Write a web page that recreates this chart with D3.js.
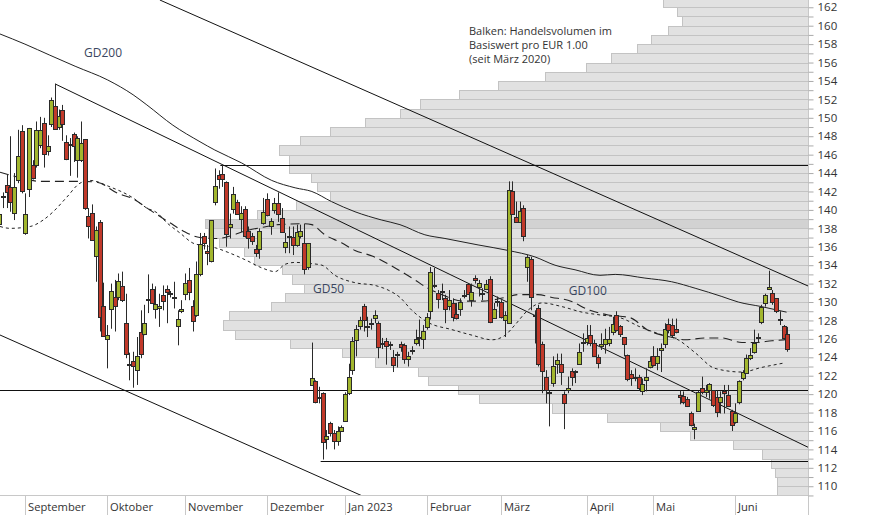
<!DOCTYPE html>
<html><head><meta charset="utf-8">
<script src="https://cdn.jsdelivr.net/npm/d3@7/dist/d3.min.js"></script>
<style>
body{margin:0;background:#fff;}
svg{display:block;font-family:"Open Sans","Noto Sans",sans-serif;}
</style>
</head><body>
<svg id="chart" width="874" height="515"></svg>
<script>
// ---------- DATA ----------
const firstIndex = -7; // trading-day index of first candle (0 = 1 Sep 2022)
const openP  = [138.5,141.4,142.7,142.5,139.7,143.3,148.6,137.5,142.3,144.9,144.9,147.0,149.4,146.4,149.3,151.3,149.0,150.9,147.4,147.2,148.2,145.4,145.4,147.7,139.3,139.7,135.0,138.7,129.6,126.0,129.2,130.6,130.5,131.7,127.7,123.2,123.6,122.6,126.8,126.5,130.3,131.4,129.2,129.3,130.8,131.4,130.9,130.6,127.4,129.0,130.9,132.4,129.6,128.6,133.0,137.2,135.5,134.5,140.9,143.8,143.9,143.0,138.1,140.1,140.9,139.0,140.1,137.7,137.2,135.8,135.8,138.6,141.2,138.3,140.0,140.7,139.1,136.0,137.1,137.1,136.2,137.2,136.4,133.8,121.0,121.4,119.6,120.1,115.1,116.9,115.8,114.9,116.0,117.1,120.1,122.6,125.9,127.4,129.6,127.3,127.7,128.3,127.7,125.6,125.8,125.3,124.0,124.3,125.4,125.3,123.8,124.8,125.6,126.1,126.0,127.3,129.0,131.8,131.0,131.1,130.4,129.6,129.9,128.7,129.2,130.8,132.0,130.2,132.6,131.6,130.9,131.4,132.5,128.3,130.0,130.0,128.1,127.7,142.1,139.2,138.7,140.2,133.8,134.7,128.6,129.3,125.4,121.9,120.2,121.2,123.3,123.3,120.0,120.4,122.5,122.5,123.3,125.5,125.7,126.4,125.5,124.0,125.2,125.4,125.5,126.8,128.6,127.4,126.2,124.2,122.2,121.9,121.9,120.3,121.5,123.0,124.1,123.4,124.8,125.4,127.6,127.5,127.1,119.9,119.8,119.5,118.0,116.2,118.2,120.7,120.2,120.5,120.4,119.7,119.2,120.3,119.9,118.2,117.0,119.1,121.7,122.3,123.9,124.6,126.1,127.8,129.9,131.4,131.0,130.4,128.2,127.4,126.5];
const highP  = [140.0,141.9,143.8,148.0,144.0,148.7,149.2,141.8,148.9,145.4,149.6,150.1,150.0,148.1,152.2,153.7,150.9,151.4,148.1,147.8,148.4,148.0,149.6,147.7,140.2,140.6,138.2,138.9,132.1,127.5,132.0,132.4,133.1,133.3,130.9,124.5,124.6,126.2,129.1,129.7,133.0,132.0,131.7,130.9,131.8,131.8,131.2,132.2,129.1,130.2,133.1,133.7,130.2,134.4,137.5,137.5,136.2,138.9,144.5,144.3,144.9,143.1,139.6,142.5,141.1,140.4,140.4,138.2,137.5,136.2,138.0,141.3,141.8,139.1,141.3,141.9,140.2,137.5,138.2,138.2,138.4,138.4,138.5,136.4,125.6,121.5,120.8,120.2,116.1,117.0,116.1,116.5,116.6,120.2,123.3,126.2,127.5,128.4,129.8,128.4,128.2,129.1,127.9,126.1,126.1,125.7,124.8,124.6,125.7,125.5,124.6,125.2,127.0,128.1,127.5,128.8,133.8,133.7,131.3,132.0,130.8,131.3,130.4,129.9,130.4,131.3,132.0,132.0,132.9,132.4,131.5,132.4,132.8,129.9,130.6,130.2,129.0,143.1,143.1,140.9,140.9,140.5,135.1,134.9,129.1,129.7,125.7,122.6,120.4,124.1,124.4,124.4,120.3,121.9,122.8,122.6,125.5,126.6,127.5,127.5,125.9,124.3,126.6,127.1,127.3,128.4,129.0,127.5,126.2,124.3,122.6,122.8,122.1,121.7,122.8,124.1,125.2,125.0,125.5,127.7,128.2,128.2,128.2,120.4,120.3,119.7,118.1,116.8,120.4,121.9,121.0,121.2,120.4,120.4,120.3,121.0,121.0,118.3,119.0,121.5,122.6,124.3,125.0,127.0,126.6,129.7,130.9,133.4,131.3,130.4,129.0,127.5,127.3];
const lowP   = [138.1,140.2,140.2,139.8,138.9,142.9,141.8,137.3,141.4,143.3,144.6,146.7,144.6,145.9,149.0,148.7,148.7,147.5,145.4,143.7,145.2,143.5,145.2,140.0,136.9,136.7,132.2,126.8,126.2,122.8,127.1,126.8,130.2,130.0,123.9,121.5,120.7,121.0,123.9,126.4,128.8,129.8,128.2,127.3,129.1,127.7,130.5,129.3,125.3,128.8,130.2,130.2,126.8,128.4,132.8,135.7,134.0,134.3,140.5,142.3,142.5,136.0,136.9,139.6,139.5,137.6,137.0,135.8,136.2,134.9,134.7,138.4,139.3,137.3,139.6,138.7,137.5,135.3,135.3,135.1,136.0,136.9,133.0,133.5,121.0,119.0,119.0,112.9,114.0,115.4,114.0,114.4,116.0,117.1,119.9,122.1,124.1,127.0,126.8,126.2,127.0,127.7,123.9,124.9,123.2,124.8,122.4,122.9,124.6,123.3,123.0,124.3,125.3,125.2,124.9,127.0,128.1,131.5,129.3,130.2,127.7,129.1,127.9,128.1,128.5,130.4,130.8,129.5,132.0,130.6,130.2,131.3,127.7,128.2,129.5,128.2,126.2,127.7,139.5,138.6,138.6,136.6,132.2,129.1,125.5,123.0,120.1,119.0,116.5,120.8,122.2,121.0,116.2,120.1,120.9,121.2,123.2,124.6,125.3,125.2,124.1,122.8,124.8,124.4,125.2,126.4,126.8,126.2,124.1,121.4,120.9,121.4,120.4,119.9,120.3,122.8,123.0,122.6,122.4,125.0,126.6,126.2,126.6,118.9,118.9,118.6,116.5,115.1,118.1,120.0,119.7,119.5,118.6,117.5,117.9,117.9,118.6,116.0,116.8,118.9,121.5,122.3,123.7,124.4,125.6,127.6,129.5,131.3,129.7,128.8,127.5,125.9,124.6];
const closeP = [139.6,141.5,141.9,140.9,142.5,145.9,142.1,139.6,148.9,143.5,148.7,148.7,146.1,146.9,151.9,148.8,150.2,149.3,145.5,147.0,146.9,147.8,147.3,140.2,138.2,136.7,137.8,128.4,126.3,126.4,131.2,129.6,132.3,130.2,124.4,123.3,123.1,124.1,124.4,127.7,130.3,129.9,129.8,129.6,130.1,131.1,131.0,130.5,128.2,129.2,132.1,131.1,127.9,133.0,136.3,136.4,135.3,138.9,142.6,143.4,143.4,137.4,138.5,141.7,139.6,139.7,137.2,137.0,136.6,135.3,137.7,139.8,139.5,138.8,140.7,139.6,137.6,136.5,137.2,136.2,137.6,137.7,133.6,136.4,121.8,119.2,119.7,114.8,115.5,115.8,114.9,116.0,116.4,120.0,121.9,125.8,127.1,128.1,128.0,127.4,127.7,128.6,125.1,125.6,125.2,125.4,123.2,124.4,125.1,123.8,124.1,124.8,126.0,126.2,126.9,128.4,133.3,131.9,130.3,131.2,129.2,130.2,128.4,128.3,130.0,130.8,130.9,131.1,132.4,132.1,131.0,132.0,127.8,129.2,130.1,128.4,128.6,142.2,139.6,138.7,139.9,137.2,134.9,130.5,128.6,123.3,122.5,120.4,120.2,123.1,123.7,122.4,119.0,120.7,121.9,122.5,124.6,125.7,126.1,125.5,124.1,123.4,125.4,126.0,126.0,127.6,127.0,126.5,125.4,121.6,121.7,121.9,120.7,121.1,121.9,123.6,123.2,124.1,125.0,127.1,127.0,126.4,126.7,119.7,119.2,118.7,116.6,116.4,120.2,120.2,120.4,121.1,118.8,118.1,119.7,120.1,118.7,116.6,118.0,121.4,122.4,123.9,124.2,125.6,126.2,129.5,130.8,131.6,130.0,129.0,128.0,126.1,124.9];

// moving averages: [trading-day index, value]
const gd200 = [[-6.8,159.1],[-0.1,158.0],[6.6,156.8],[13.4,155.6],[22.2,154.1],[29.0,152.5],[32.7,151.4],[39.7,149.2],[47.0,147.4],[51.0,146.5],[58.2,145.1],[66.3,143.2],[72.6,142.4],[77.1,142.0],[82.4,140.9],[88.7,139.8],[95.9,138.9],[100.8,138.4],[107.5,137.3],[112.9,136.9],[121.8,136.2],[129.9,135.6],[137.1,134.9],[142.5,134.0],[147.9,133.5],[154.6,132.9],[158.7,133.0],[166.7,132.6],[173.9,132.2],[180.2,131.5],[187.4,130.6],[191.8,130.0],[198.1,129.5],[204.8,128.9]];
const gd100 = [[-6.8,144.1],[-1.4,143.5],[4.0,143.1],[9.3,143.1],[15.5,143.1],[19.3,143.0],[24.9,141.8],[29.0,141.2],[33.5,140.0],[38.9,138.6],[43.0,137.6],[47.0,137.0],[51.8,136.9],[54.5,137.1],[59.9,137.8],[63.7,138.1],[68.0,138.4],[75.2,138.5],[77.1,138.4],[80.6,137.3],[85.2,136.4],[88.7,135.6],[93.3,135.0],[99.5,133.7],[104.8,132.4],[108.3,131.5],[112.1,130.8],[117.5,130.1],[122.9,130.1],[129.1,130.5],[132.5,130.8],[137.9,130.8],[141.7,130.5],[146.0,130.2],[151.9,129.1],[156.8,128.6],[162.7,128.3],[167.3,127.0],[174.8,126.1],[177.5,125.9],[182.9,126.1],[187.4,126.1],[192.8,125.6],[196.3,125.6],[200.9,125.8],[204.4,125.9]];
const gd50 = [[-6.8,138.2],[-4.1,138.0],[1.3,138.2],[4.8,138.9],[7.5,139.8],[11.2,141.4],[14.7,142.9],[17.4,143.2],[22.8,142.5],[29.0,141.3],[32.7,140.2],[35.4,139.7],[38.1,138.6],[41.6,137.5],[45.1,136.4],[48.3,136.1],[51.0,135.9],[54.5,135.4],[59.1,134.6],[63.7,133.7],[67.2,133.3],[69.9,134.1],[72.6,134.3],[76.1,134.2],[79.8,134.0],[83.3,132.9],[88.7,132.1],[94.1,131.8],[97.6,131.3],[100.8,130.5],[104.0,129.1],[108.3,127.8],[114.8,127.0],[120.2,126.4],[125.6,125.9],[129.1,126.4],[131.7,127.5],[135.2,129.1],[139.0,129.9],[144.4,129.5],[149.8,128.9],[154.6,128.6],[160.0,128.3],[165.4,127.3],[170.8,126.5],[175.6,125.9],[180.2,124.5],[185.5,122.8],[192.8,122.4],[198.1,122.9],[204.4,123.4]];

// trend lines: [[index, price],[index, price]]
const trendLines = [
  [[36.2,162.79],[210.6,131.74]],
  [[8.07,153.67],[210.6,114.23]],
  [[-6.81,126.42],[91.5,108.8]]
];
// horizontal support / resistance: [price, start index]
const levels = [[144.87,53],[120.45,-7],[112.75,80]];

// volume profile (relative, per 1-EUR price band starting at level)
const volLevels = d3.range(109,163);
const volume = [5.1,5.2,5.5,6.1,7.6,12.4,19.6,24.5,33.4,42.4,54.5,58.0,63.0,64.6,71.8,77.2,85.9,95.0,97.0,96.1,89.1,86.7,83.5,85.6,87.2,91.8,93.6,97.6,99.5,100,91.4,84.9,79.3,81.4,82.4,86.0,86.0,87.7,84.2,79.3,73.5,67.7,64.3,57.8,51.4,43.6,36.8,32.6,28.4,26.0,23.3,20.9,21.8,24.1];

const monthLabels = ["September","Oktober","November","Dezember","Jan 2023","Februar","März","April","Mai","Juni"];
const monthStart  = [0,22,43,65,86,108,128,151,169,191];
const priceTicks = d3.range(109,163);
const noteLines = ["Balken: Handelsvolumen im","Basiswert pro EUR 1.00","(seit März 2020)"];
const maLabels = [["GD200",15.8,157.0],["GD50",77.4,131.3],["GD100",146.2,131.1]];

// ---------- CHART ----------
const W = 808, H = 495;
const svg = d3.select("#chart");
const x = d3.scaleLinear().domain([0,205]).range([25.3,787.3]);
const y = d3.scaleLinear().domain([109.05,162.79]).range([495,0]);
const vx = d3.scaleLinear().domain([0,100]).range([W,205]);

svg.append("defs").append("clipPath").attr("id","plot")
  .append("rect").attr("x",0).attr("y",0).attr("width",W).attr("height",H);
const g = svg.append("g").attr("clip-path","url(#plot)");

// volume bars
const vmax = d3.max(volume);
g.append("g").selectAll("rect").data(volLevels).join("rect")
  .attr("x",(d,i)=>Math.round(vx(volume[i]))+0.5)
  .attr("y",d=>Math.round(y(d+1))+0.5)
  .attr("width",(d,i)=>W-Math.round(vx(volume[i])))
  .attr("height",d=>Math.round(y(d))-Math.round(y(d+1)))
  .attr("fill",(d,i)=>volume[i]===vmax?"#d2d2d2":"#e1e1e1")
  .attr("stroke","#c3c3c3").attr("stroke-width",1);

// horizontal levels
g.append("g").selectAll("line").data(levels).join("line")
  .attr("x1",d=>x(d[1])-2).attr("x2",W)
  .attr("y1",d=>Math.round(y(d[0]))+0.5).attr("y2",d=>Math.round(y(d[0]))+0.5)
  .attr("stroke","#111").attr("stroke-width",1);

// trend lines
g.append("g").selectAll("line").data(trendLines).join("line")
  .attr("x1",d=>x(d[0][0])).attr("y1",d=>y(d[0][1]))
  .attr("x2",d=>x(d[1][0])).attr("y2",d=>y(d[1][1]))
  .attr("stroke","#111").attr("stroke-width",1);

// moving averages
const ln = d3.line().x(d=>x(d[0])).y(d=>y(d[1])).curve(d3.curveMonotoneX);
g.append("path").datum(gd200).attr("d",ln).attr("fill","none").attr("stroke","#222").attr("stroke-width",1);
g.append("path").datum(gd100).attr("d",ln).attr("fill","none").attr("stroke","#222").attr("stroke-width",1.1).attr("stroke-dasharray","9,5");
g.append("path").datum(gd50).attr("d",ln).attr("fill","none").attr("stroke","#222").attr("stroke-width",1).attr("stroke-dasharray","3,3");

// candles
const candles = openP.map((o,k)=>({i:firstIndex+k,o,h:highP[k],l:lowP[k],c:closeP[k]}));
const cg = g.append("g").selectAll("g").data(candles).join("g");
cg.append("line")
  .attr("x1",d=>Math.round(x(d.i))+0.5).attr("x2",d=>Math.round(x(d.i))+0.5)
  .attr("y1",d=>y(d.h)).attr("y2",d=>y(d.l))
  .attr("stroke","#2a2a2a").attr("stroke-width",1);
cg.append("rect")
  .attr("x",d=>Math.round(x(d.i))-1.5)
  .attr("y",d=>Math.round(y(Math.max(d.o,d.c)))+0.5)
  .attr("width",4)
  .attr("height",d=>Math.max(1,Math.round(y(Math.min(d.o,d.c)))-Math.round(y(Math.max(d.o,d.c)))))
  .attr("fill",d=>d.c>=d.o?"#a2b62e":"#c1392a")
  .attr("stroke","#2a2a2a").attr("stroke-width",1);

// MA labels
svg.append("g").selectAll("text").data(maLabels).join("text")
  .attr("x",d=>x(d[1])).attr("y",d=>y(d[2]))
  .attr("font-size",12).attr("fill","#3a4660").attr("dominant-baseline","middle")
  .text(d=>d[0]);

// note
svg.append("g").selectAll("text").data(noteLines).join("text")
  .attr("x",469).attr("y",(d,i)=>35+i*14)
  .attr("font-size",11).attr("fill","#333")
  .text(d=>d);

// axes
svg.append("line").attr("x1",W+0.5).attr("x2",W+0.5).attr("y1",0).attr("y2",515).attr("stroke","#c8c8c8");
svg.append("line").attr("x1",0).attr("x2",W).attr("y1",H+0.5).attr("y2",H+0.5).attr("stroke","#c8c8c8");

const ra = svg.append("g").attr("transform",`translate(${W+0.5},0)`)
  .call(d3.axisRight(y).tickValues(priceTicks).tickSize(5).tickPadding(4).tickFormat(d=>d%2===0?d:""));
ra.select(".domain").remove();
ra.selectAll(".tick line").attr("stroke","#aaa");
ra.selectAll(".tick text").attr("font-size",11.5).attr("fill","#333").attr("font-family","'Open Sans',sans-serif");

const mt = svg.append("g").selectAll("g").data(monthStart).join("g")
  .attr("transform",d=>`translate(${Math.round(x(d))+0.5},0)`);
mt.append("line").attr("y1",H).attr("y2",515).attr("stroke","#c8c8c8");
mt.append("text").attr("x",2.5).attr("y",511).attr("font-size",11.2).attr("fill","#333")
  .text((d,i)=>monthLabels[i]);
</script>
</body></html>
